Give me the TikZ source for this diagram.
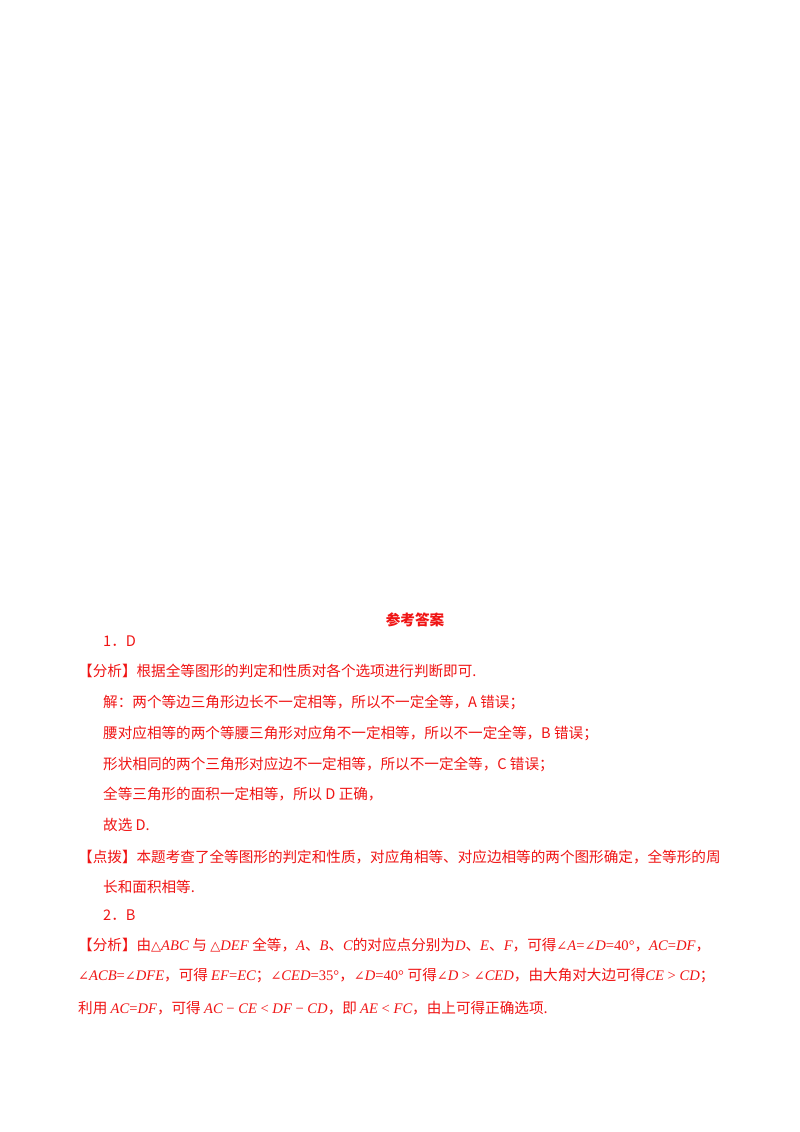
\documentclass[tikz,border=0pt]{standalone}
\usepackage{fontspec}
\setmainfont{Liberation Serif}
\newfontfamily\cjk{Noto Sans CJK SC}
\newfontfamily\dvs{DejaVu Serif}
\definecolor{ansred}{RGB}{240,20,20}
\newcommand{\mi}[1]{{\itshape #1}}
\newcommand{\ang}{{\dvs\fontsize{13}{15}\selectfont ∠}}
\newcommand{\tri}{{\dvs\fontsize{13}{15}\selectfont △}}
\begin{document}
\begin{tikzpicture}[x=1pt,y=-1pt,
  ln/.style={anchor=west,inner sep=0pt,text=ansred,font=\cjk\fontsize{14.6}{17}\selectfont}]
\useasboundingbox[fill=white] (0,0) rectangle (800,1132);
\node[ln,anchor=center,font=\cjk\bfseries\fontsize{14.6}{17}\selectfont] (t) at (415,620) {参考答案};
\node[ln] (l1) at (103,641) {1．D};
\node[ln] (l2) at (78,671) {【分析】根据全等图形的判定和性质对各个选项进行判断即可.};
\node[ln] (l3) at (103,702) {解：两个等边三角形边长不一定相等，所以不一定全等，A 错误；};
\node[ln] (l4) at (103,733) {腰对应相等的两个等腰三角形对应角不一定相等，所以不一定全等，B 错误；};
\node[ln] (l5) at (103,764) {形状相同的两个三角形对应边不一定相等，所以不一定全等，C 错误；};
\node[ln] (l6) at (103,794) {全等三角形的面积一定相等，所以 D 正确，};
\node[ln] (l7) at (103,825) {故选 D.};
\node[ln] (l8) at (78,857) {【点拨】本题考查了全等图形的判定和性质，对应角相等、对应边相等的两个图形确定，全等形的周};
\node[ln] (l9) at (103,887) {长和面积相等.};
\node[ln] (l10) at (103,915) {2．B};
\node[ln] (l11) at (78,945) {【分析】由\rmfamily\tri\mi{ABC} \cjk 与 \rmfamily\tri\mi{DEF} \cjk 全等，\rmfamily\mi{A}\cjk 、\rmfamily\mi{B}\cjk 、\rmfamily\mi{C}\cjk 的对应点分别为\rmfamily\mi{D}\cjk 、\rmfamily\mi{E}\cjk 、\rmfamily\mi{F}\cjk ，可得\rmfamily\ang\mi{A}=\ang\mi{D}=40°\cjk ，\rmfamily\mi{AC}=\mi{DF}\cjk ，};
\node[ln] (l12) at (78,976) {\rmfamily\ang\mi{ACB}=\ang\mi{DFE}\cjk ，可得 \rmfamily\mi{EF}=\mi{EC}\cjk ；\rmfamily\ang\mi{CED}=35°\cjk ，\rmfamily\ang\mi{D}=40° \cjk 可得\rmfamily\ang\mi{D} > \ang\mi{CED}\cjk ，由大角对大边可得\rmfamily\mi{CE} > \mi{CD}\cjk ；};
\node[ln] (l13) at (78,1008) {利用 \rmfamily\mi{AC}=\mi{DF}\cjk ，可得 \rmfamily\mi{AC} − \mi{CE} < \mi{DF} − \mi{CD}\cjk ，即 \rmfamily\mi{AE} < \mi{FC}\cjk ，由上可得正确选项.};
\end{tikzpicture}
\end{document}
